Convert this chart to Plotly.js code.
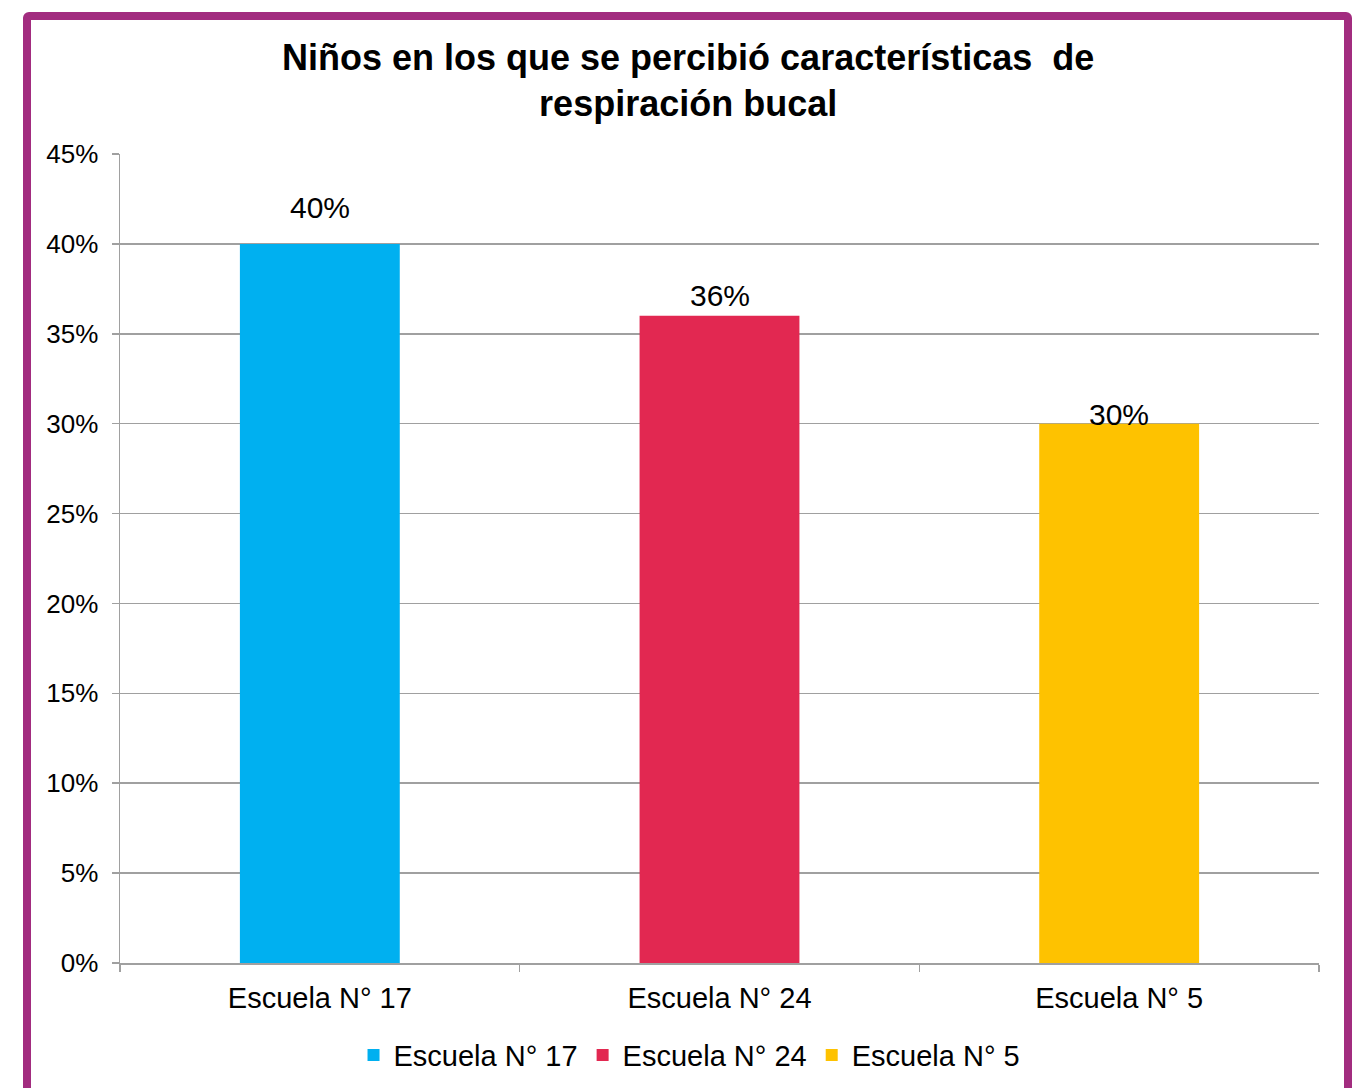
<!DOCTYPE html>
<html>
<head>
<meta charset="utf-8">
<script src="https://cdn.plot.ly/plotly-3.0.1.min.js"></script>
<style>
  html, body { margin: 0; padding: 0; width: 1360px; height: 1088px; overflow: hidden; background: #fff; }
  #chart { position: absolute; left: 0; top: 0; width: 1360px; height: 1088px; }
  #frame { position: absolute; left: 23px; top: 12px; width: 1329px; height: 1110px;
           box-sizing: border-box; border: 8px solid #A22C7F; border-radius: 6px; pointer-events: none; }
</style>
</head>
<body>
<div id="chart"></div>
<div id="frame"></div>
<script>
const categories = ["Escuela N° 17", "Escuela N° 24", "Escuela N° 5"];
const values = [0.40, 0.36, 0.30];
const colors = ["#00B0F0", "#E22851", "#FEC200"];
const titleText = "Niños en los que se percibió características  de<br>respiración bucal";

const FONT = "Liberation Sans, Arial, sans-serif";
const grid = "#A0A0A0";

const traces = categories.map((c, i) => ({
  type: "bar",
  name: c,
  x: [c],
  y: [values[i]],
  width: 0.4,
  marker: { color: colors[i] },
  hoverinfo: "skip"
}));

// data labels placed as in the original (Excel-style, slightly uneven)
const labelLift = [36, 20, 9];
const annotations = categories.map((c, i) => ({
  x: c, y: values[i], xref: "x", yref: "y",
  text: Math.round(values[i] * 100) + "%",
  showarrow: false,
  yanchor: "middle",
  yshift: labelLift[i],
  font: { family: FONT, size: 30, color: "#000" }
}));

const layout = {
  width: 1360,
  height: 1088,
  margin: { l: 120, r: 41, t: 154, b: 125, autoexpand: false },
  paper_bgcolor: "#fff",
  plot_bgcolor: "#fff",
  barmode: "overlay",
  font: { family: FONT, size: 25, color: "#000" },
  title: {
    text: "<b>" + titleText + "</b>",
    font: { family: FONT, size: 36, color: "#000" },
    x: 0.506, xanchor: "center",
    y: 0.936, yanchor: "middle", yref: "container"
  },
  annotations: annotations,
  xaxis: {
    type: "category",
    categoryorder: "array",
    categoryarray: categories,
    automargin: false,
    showline: true, linecolor: grid, linewidth: 1.5,
    ticks: "outside", ticklen: 7, tickcolor: grid, tickwidth: 1.5,
    tickson: "boundaries",
    showgrid: false,
    tickfont: { family: FONT, size: 29, color: "#000" },
    ticklabelstandoff: 9
  },
  yaxis: {
    range: [0, 0.45],
    dtick: 0.05,
    tickformat: ".0%",
    automargin: false,
    showline: true, linecolor: grid, linewidth: 1.5,
    ticks: "outside", ticklen: 7, tickcolor: grid, tickwidth: 1.5,
    showgrid: true, gridcolor: grid, gridwidth: 1.5,
    zeroline: false,
    tickfont: { family: FONT, size: 26, color: "#000" },
    ticklabelstandoff: 8
  },
  showlegend: true,
  legend: {
    orientation: "h",
    x: 0.475, xanchor: "center",
    y: -0.114, yanchor: "middle",
    font: { family: FONT, size: 29, color: "#000" },
    itemwidth: 30,
    tracegroupgap: 0
  }
};

Plotly.newPlot("chart", traces, layout, { displayModeBar: false, staticPlot: true });
</script>
</body>
</html>
